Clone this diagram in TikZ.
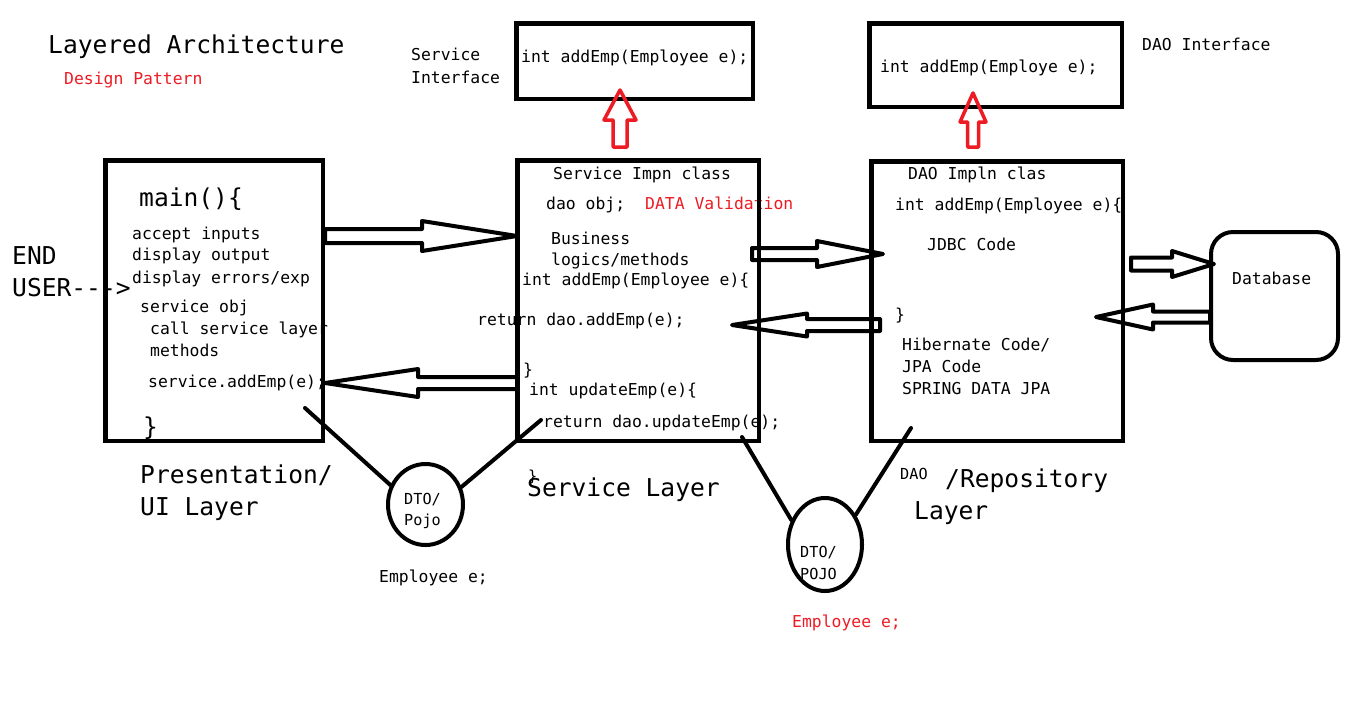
\documentclass[tikz,border=0pt]{standalone}
\usepackage{fontspec}
\newfontfamily\monofam{DejaVu Sans Mono}[Ligatures=TeXOff]
\usetikzlibrary{calc,shapes.geometric}
\definecolor{paintred}{HTML}{ED1C24}
\newcommand\smallcode{\monofam\fontsize{16.4pt}{19pt}\selectfont}
\newcommand\tinycode{\monofam\fontsize{15.2pt}{18pt}\selectfont}
\newcommand\bigcode{\monofam\fontsize{24.6pt}{28pt}\selectfont}
\tikzset{
  txt/.style={anchor=west, inner sep=0pt, font=\smallcode, text height=12pt, text depth=3pt, yshift=-2.5pt},
  tiny/.style={txt, font=\tinycode},
  big/.style={anchor=west, inner sep=0pt, font=\bigcode, text height=18pt, text depth=5pt, yshift=-3pt},
  box/.style={draw, line width=4.5pt, inner sep=0pt, anchor=north west},
  dtoline/.style={line width=4pt, line cap=round},
  hollow/.style n args={3}{line width=4pt, line join=round, to path={
    ($(\tikztostart)!#1!90:(\tikztotarget)$)
    -- ($(\tikztotarget)!#3!(\tikztostart)!#1!-90:(\tikztostart)$)
    -- ($(\tikztotarget)!#3!(\tikztostart)!#2!-90:(\tikztostart)$)
    -- (\tikztotarget)
    -- ($(\tikztotarget)!#3!(\tikztostart)!#2!90:(\tikztostart)$)
    -- ($(\tikztotarget)!#3!(\tikztostart)!#1!90:(\tikztostart)$)
    -- ($(\tikztostart)!#1!-90:(\tikztotarget)$) -- cycle}},
}

\begin{document}
\begin{tikzpicture}[x=1pt, y=-1pt]
\fill[white] (0,0) rectangle (1355,716);
\useasboundingbox (0,0) rectangle (1355,716);

% titles and interface labels
\node[big] (title) at (48,44) {Layered Architecture};
\node[txt, text=paintred] (design) at (64,77) {Design Pattern};
\node[txt] (siflbla) at (411,53) {Service};
\node[txt] (siflblb) at (411,76) {Interface};
\node[txt] (sifcode) at (521,55) {int addEmp(Employee e);};
\node[txt] (difcode) at (880,65) {int addEmp(Employe e);};
\node[txt] (diflbl) at (1142,43) {DAO Interface};

\node[big] (endu) at (12,255) {END};
\node[big] (user) at (12,287) {USER--->};

% presentation layer
\node[big] (mainf) at (139,197) {main()\{};
\node[txt] (pa) at (132,232) {accept inputs};
\node[txt] (pb) at (132,253) {display output};
\node[txt] (pc) at (132,276) {display errors/exp};
\node[txt] (pd) at (140,305) {service obj};
\node[txt] (pe) at (150,327) {call service layer};
\node[txt] (pf) at (150,349) {methods};
\node[txt] (pg) at (148,380) {service.addEmp(e);};
\node[big] (pend) at (143,426) {\}};

% service layer
\node[txt] (sa) at (553,172) {Service Impn class};
\node[txt] (sb) at (546,202) {dao obj;};
\node[txt, text=paintred] (sval) at (645,202) {DATA Validation};
\node[txt] (sc) at (551,237) {Business};
\node[txt] (sd) at (551,258) {logics/methods};
\node[txt] (se) at (522,278) {int addEmp(Employee e)\{};
\node[txt] (sf) at (477,318) {return dao.addEmp(e);};
\node[txt] (sg) at (523,368) {\}};
\node[txt] (sh) at (529,388) {int updateEmp(e)\{};
\node[txt] (si) at (543,420) {return dao.updateEmp(e);};
\node[tiny] (sj) at (528,474) {\}};

% dao layer
\node[txt] (da) at (908,172) {DAO Impln clas};
\node[txt] (db1) at (895,203) {int addEmp(Employee e)\{};
\node[txt] (dc) at (927,243) {JDBC Code};
\node[txt] (dd) at (895,313) {\}};
\node[txt] (de) at (902,343) {Hibernate Code/};
\node[txt] (df) at (902,365) {JPA Code};
\node[txt] (dg) at (902,387) {SPRING DATA JPA};
\node[txt] (dbtxt) at (1232,277) {Database};

% layer names
\node[big] (uia) at (140,474) {Presentation/};
\node[big] (uib) at (140,506) {UI Layer};
\node[big] (svlbl) at (527,487) {Service Layer};
\node[tiny] (daolbl) at (900,472) {DAO};
\node[big] (repa) at (945,478) {/Repository};
\node[big] (repb) at (914,510) {Layer};

\node[tiny] (dtoa) at (404,497) {DTO/};
\node[tiny] (dtob) at (404,518) {Pojo};
\node[tiny] (dtoc) at (800,550) {DTO/};
\node[tiny] (dtod) at (800,572) {POJO};
\node[txt] (empa) at (379,575) {Employee e;};
\node[txt, text=paintred] (empb) at (792,620) {Employee e;};

% boxes
\node[box, minimum width=217.5pt, minimum height=280.5pt] (pres) at (103,158) {};
\node[box, minimum width=241.5pt, minimum height=280.5pt] (serv) at (515,158) {};
\node[box, minimum width=251.5pt, minimum height=279.5pt] (dao) at (869,159) {};
\node[box, minimum width=236.5pt, minimum height=75.5pt] (sif) at (514,21) {};
\node[box, minimum width=252.5pt, minimum height=83.5pt] (dif) at (867,21) {};
\node[box, line width=4pt, rounded corners=22pt, minimum width=127pt, minimum height=128pt] (db) at (1209,230) {};

\node[draw, ellipse, line width=4pt, inner sep=0pt, minimum width=75pt, minimum height=81pt] (dto1) at (425.5,504.5) {};
\node[draw, ellipse, line width=4pt, inner sep=0pt, minimum width=74pt, minimum height=93pt] (dto2) at (825,544.5) {};

% hollow arrows
\coordinate (a1t) at ($(pres.north east)+(0,78)$);
\coordinate (a1h) at ($(serv.north west)+(2,78)$);
\coordinate (a2t) at ($(serv.north west)+(2,225)$);
\coordinate (a2h) at ($(pres.north east)+(0,225)$);
\coordinate (a3t) at ($(serv.north east)+(-9,96)$);
\coordinate (a3h) at ($(dao.north west)+(14,95)$);
\coordinate (a4t) at ($(dao.north west)+(11,166)$);
\coordinate (a4h) at ($(serv.north east)+(-29,167)$);
\coordinate (a5t) at ($(dao.north east)+(6,105)$);
\coordinate (a5h) at ($(db.north west)+(5,34)$);
\coordinate (a6t) at ($(db.north west)+(1,87)$);
\coordinate (a6h) at ($(dao.north east)+(-29,158)$);
\draw[hollow={7pt}{15pt}{95pt}] (a1t) to (a1h);
\draw[hollow={6pt}{14pt}{93pt}] (a2t) to (a2h);
\draw[hollow={6pt}{13pt}{66pt}] (a3t) to (a3h);
\draw[hollow={6pt}{11.5pt}{75pt}] (a4t) to (a4h);
\draw[hollow={6.5pt}{13pt}{42pt}] (a5t) to (a5h);
\draw[hollow={5.5pt}{12.5pt}{57pt}] (a6t) to (a6h);

\coordinate (r1t) at ($(serv.north west)+(105,-11)$);
\coordinate (r1h) at ($(sif.south west)+(106,-11)$);
\coordinate (r2t) at ($(dao.north west)+(104,-12)$);
\coordinate (r2h) at ($(dif.south west)+(106,-16)$);
\draw[paintred, hollow={7pt}{16pt}{30pt}, line width=3.5pt] (r1t) to (r1h);
\draw[paintred, hollow={5.5pt}{13pt}{29pt}, line width=3.5pt] (r2t) to (r2h);

% DTO links
\coordinate (la) at ($(pres.south east)+(-20,-35)$);
\coordinate (lb) at ($(serv.south west)+(26,-23)$);
\coordinate (lc) at ($(serv.south east)+(-19,-6)$);
\coordinate (ld) at ($(dao.south west)+(42,-15)$);
\draw[dtoline] (la) -- (dto1.151);
\draw[dtoline] (lb) -- (dto1.26);
\draw[dtoline] (lc) -- (dto2.144);
\draw[dtoline] (ld) -- (dto2.44);
\end{tikzpicture}
\end{document}
